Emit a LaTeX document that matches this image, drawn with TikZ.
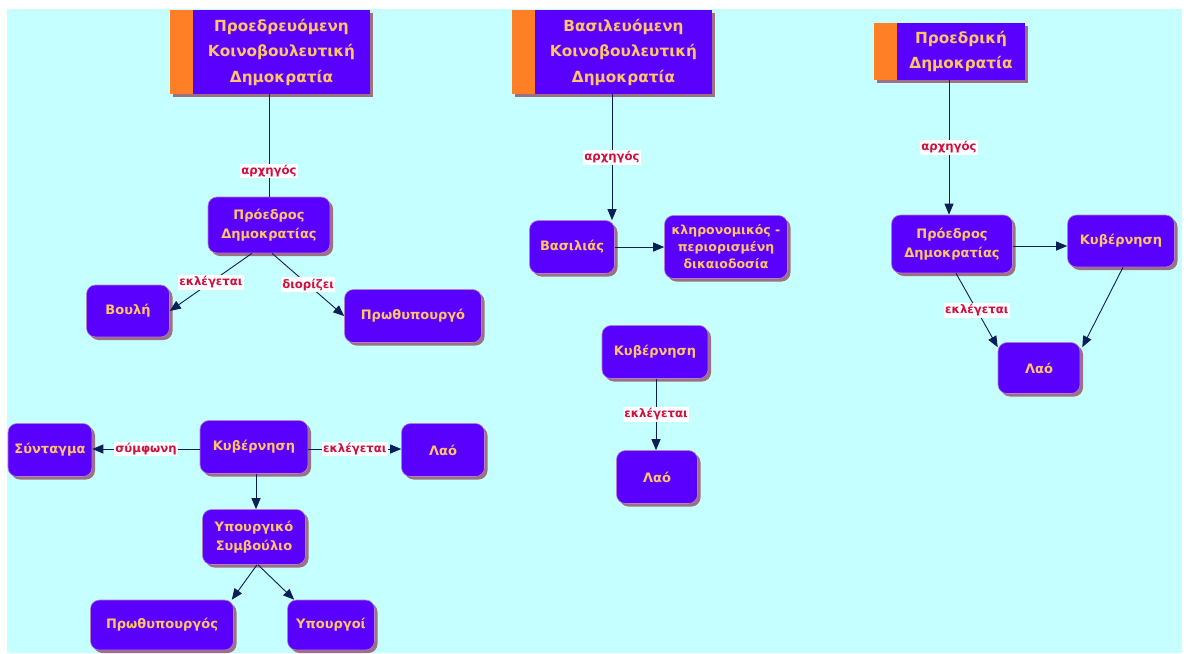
\documentclass[tikz,border=0pt]{standalone}
\usepackage{fontspec}
\setmainfont{DejaVu Sans}
\usetikzlibrary{calc,arrows.meta,shadows,backgrounds}
\definecolor{bgcyan}{HTML}{C6FFFF}
\definecolor{boxblue}{HTML}{5A00FF}
\definecolor{boxtext}{HTML}{FFC466}
\definecolor{boxline}{HTML}{B27FC8}
\definecolor{boxshadow}{HTML}{9C7282}
\definecolor{stripeorange}{HTML}{FF7F27}
\definecolor{linkblue}{HTML}{0A1E5A}
\definecolor{tagred}{HTML}{CC1040}
\tikzset{
	wh/.style 2 args={minimum width=#1pt, minimum height=#2pt},
	shade3/.style={drop shadow={shadow xshift=3pt, shadow yshift=-3pt, fill=boxshadow, opacity=1}},
	box/.style={draw=boxline, line width=0.6pt, fill=boxblue, rounded corners=9pt, shade3,
		text=boxtext, align=center, inner sep=2pt, font=\bfseries\fontsize{13}{19.5}\selectfont},
	headbox/.style={fill=boxblue, shade3, text=boxtext, align=center, inner sep=2pt,
		font=\bfseries\fontsize{15.3}{25.5}\selectfont},
	stripe/.style={fill=stripeorange, shade3},
	link/.style={draw=linkblue, line width=0.9pt},
	arr/.style={link, -{Triangle[length=11pt,width=9pt]}},
	tag/.style={fill=white, text=tagred, inner sep=1.5pt, font=\bfseries\fontsize{11.7}{13}\selectfont},
}

\begin{document}
\begin{tikzpicture}[x=1pt,y=-1pt]
	\useasboundingbox (0,0) rectangle (1190,653);

	% titles
	\node[headbox, wh={177}{84}] (t1) at (281.5,52) {Προεδρευόμενη\\Κοινοβουλευτική\\Δημοκρατία};
	\node[headbox, wh={177}{84}] (t2) at (623.5,52) {Βασιλευόμενη\\Κοινοβουλευτική\\Δημοκρατία};
	\node[headbox, wh={128}{57}] (t3) at (961,51.5) {Προεδρική\\Δημοκρατία};

	\begin{scope}[on background layer]
		\fill[bgcyan] (7,9) rectangle (1182,653);
		\foreach \t in {t1,t2,t3}
			\fill[stripe] ([xshift=-23pt]\t.north west) rectangle (\t.south west);
	\end{scope}

	% first column
	\node[box, wh={122}{56}] (pd1) at (269,225) {Πρόεδρος\\Δημοκρατίας};
	\node[box, wh={83}{52}] (vouli) at (128,311) {Βουλή};
	\node[box, wh={137}{53}] (prothyp) at (413,316) {Πρωθυπουργό};
	\node[box, wh={84}{53}] (syntagma) at (50,450) {Σύνταγμα};
	\node[box, wh={108}{53}] (kyv1) at (254,447) {Κυβέρνηση};
	\node[box, wh={83}{53}] (lao1) at (443,450) {Λαό};
	\node[box, wh={103}{55}] (ypsym) at (254,537) {Υπουργικό\\Συμβούλιο};
	\node[box, wh={143}{50}] (prothyp2) at (162,625) {Πρωθυπουργός};
	\node[box, wh={87}{50}] (ypourgoi) at (331,625) {Υπουργοί};

	\draw[link] ([xshift=-12.5pt]t1.south) -- (pd1.north) node[tag, pos=0.75] (a1) {αρχηγός};
	\draw[arr] ([xshift=-17pt]pd1.south) -- (vouli.east) node[tag, midway] (e1) {εκλέγεται};
	\draw[arr] ([xshift=3pt]pd1.south) -- (prothyp.west) node[tag, midway] (d1) {διορίζει};
	\draw[arr] ([yshift=-2pt]kyv1.west) -- ([yshift=-2pt]kyv1.west -| syntagma.east) node[tag, midway] (s1) {σύμφωνη};
	\draw[arr] ([yshift=-2pt]kyv1.east) -- ([yshift=-2pt]kyv1.east -| lao1.west) node[tag, midway] (e2) {εκλέγεται};
	\draw[arr] ([xshift=2pt]kyv1.south) -- ([xshift=2pt]ypsym.north);
	\draw[arr] ([xshift=3pt]ypsym.south) -- ([xshift=-2pt]prothyp2.north east);
	\draw[arr] ([xshift=4pt]ypsym.south) -- ([xshift=7pt]ypourgoi.north west);

	% second column
	\node[box, wh={85}{53}] (vasilias) at (572,247) {Βασιλιάς};
	\node[box, wh={123}{63}, font=\bfseries\fontsize{12.5}{17}\selectfont] (klir) at (726,247) {κληρονομικός -\\περιορισμένη\\δικαιοδοσία};
	\node[box, wh={106}{53}] (kyv2) at (655,352) {Κυβέρνηση};
	\node[box, wh={81}{53}] (lao2) at (657,477) {Λαό};

	\draw[arr] ([xshift=-11.5pt]t2.south) -- ([xshift=40pt]vasilias.north) node[tag, midway] (a2) {αρχηγός};
	\draw[arr] (vasilias.east) -- (klir.west);
	\draw[arr] ([xshift=1pt]kyv2.south) -- ([xshift=-1pt]lao2.north) node[tag, midway] (e3) {εκλέγεται};

	% third column
	\node[box, wh={121}{58}] (pd3) at (952,244) {Πρόεδρος\\Δημοκρατίας};
	\node[box, wh={107}{52}] (kyv3) at (1121,241) {Κυβέρνηση};
	\node[box, wh={82}{51}] (lao3) at (1039,368) {Λαό};

	\draw[arr] ([xshift=-12pt]t3.south) -- ([xshift=-3pt]pd3.north) node[tag, midway] (a3) {αρχηγός};
	\draw[arr] ([yshift=-2pt]pd3.east) -- ([yshift=-2pt]pd3.east -| kyv3.west);
	\draw[arr] ([xshift=4pt]pd3.south) -- ([yshift=-5pt]lao3.north west) node[tag, midway] (e4) {εκλέγεται};
	\draw[arr] ([xshift=2pt]kyv3.south) -- ([xshift=2pt,yshift=-5pt]lao3.north east);
\end{tikzpicture}
\end{document}
